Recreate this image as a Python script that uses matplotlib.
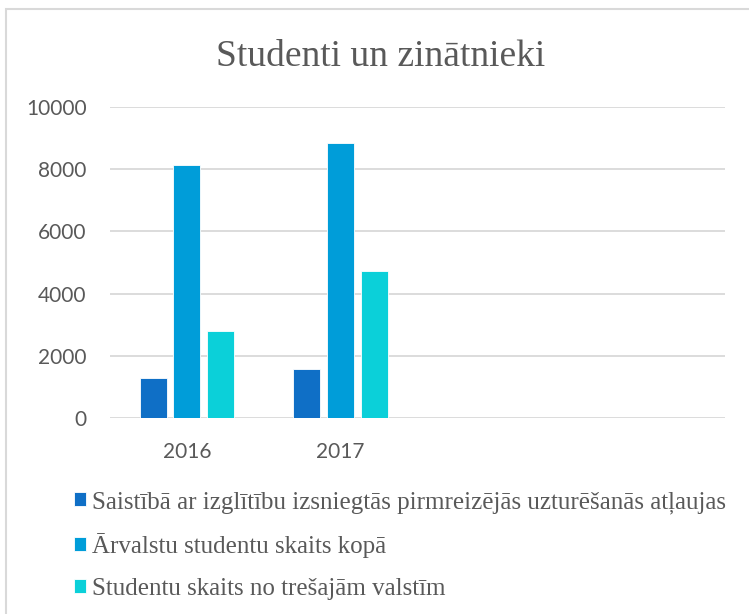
import matplotlib.pyplot as plt
import numpy as np
from matplotlib.patches import Rectangle

# data
years = ['2016', '2017', '', '']
permits = [1300, 1570]
students_total = [8150, 8830]
third_countries = [2810, 4720]
labels = ['Saistībā ar izglītību izsniegtās pirmreizējās uzturēšanās atļaujas',
          'Ārvalstu studentu skaits kopā',
          'Studentu skaits no trešajām valstīm']
colors = ['#0F6FC6', '#009DD9', '#0BD0D9']

fig = plt.figure(figsize=(7.49, 6.14), dpi=100)
ax = fig.add_axes([0.1469, 0.3192, 0.8211, 0.5065])

# outer chart border
fig.patches.append(Rectangle((6 / 749, -0.05), 1.1, 1 - 9 / 614 + 0.05,
                             transform=fig.transFigure, fill=False,
                             edgecolor='#D9D9D9', linewidth=1.5))

x = np.arange(len(years))
w = 0.175
off = 0.22
n = len(permits)
b1 = ax.bar(x[:n] - off, permits, w, color=colors[0], edgecolor='white', linewidth=0.6, zorder=3)
b2 = ax.bar(x[:n], students_total, w, color=colors[1], edgecolor='white', linewidth=0.6, zorder=3)
b3 = ax.bar(x[:n] + off, third_countries, w, color=colors[2], edgecolor='white', linewidth=0.6, zorder=3)

ax.set_xlim(-0.5, len(years) - 0.5)
ax.set_ylim(0, 10000)
ax.set_yticks(np.arange(0, 10001, 2000))
ax.set_xticks(x[:n])
ax.set_xticklabels(years[:n])
ax.yaxis.grid(True, color='#D9D9D9', linewidth=1.3, zorder=0)
ax.set_axisbelow(True)
for s in ax.spines.values():
    s.set_visible(False)
ax.tick_params(axis='both', length=0, labelsize=15, labelcolor='#595959')
ax.tick_params(axis='y', pad=17)
ax.tick_params(axis='x', pad=17)
for t in ax.get_xticklabels() + ax.get_yticklabels():
    t.set_fontfamily('Lato')

fig.text(381 / 749, 1 - 57 / 614, 'Studenti un zinātnieki', ha='center', va='center',
         fontsize=27, color='#595959', fontfamily='Liberation Serif')

leg = fig.legend([b1, b2, b3], labels, loc='upper left', bbox_to_anchor=(74 / 749, 1 - 491 / 614),
                 frameon=False, ncol=1, prop={'family': 'Liberation Serif', 'size': 18},
                 handlelength=0.48, handleheight=0.48, handletextpad=0.24, labelspacing=0.78,
                 borderpad=0, borderaxespad=0, labelcolor='#595959')

fig.savefig('out.png', dpi=100)
